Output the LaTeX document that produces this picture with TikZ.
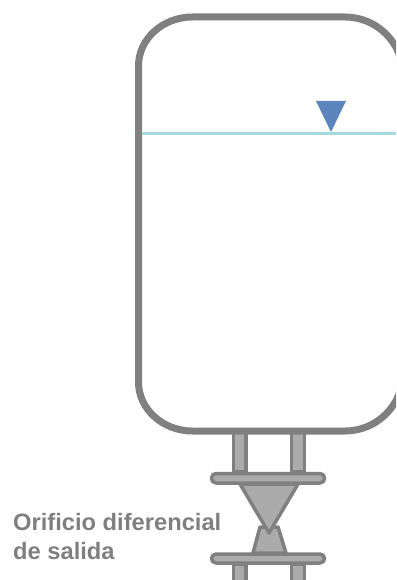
\documentclass[tikz,border=0pt]{standalone}
\usepackage{fontspec}
\setmainfont{Liberation Sans}
\definecolor{wall}{HTML}{808080}
\definecolor{metal}{HTML}{ABABAB}
\definecolor{water}{HTML}{A6D9DF}
\definecolor{marker}{HTML}{5C85BD}
\definecolor{label}{HTML}{7F7F7F}
\tikzset{
  tank/.style={draw=wall,line width=7pt,line join=round},
  part/.style={draw=wall,fill=metal,line width=3.5pt,line join=round},
  caption/.style={font=\bfseries\fontsize{23.7}{29}\selectfont,text=label,align=left,inner sep=0pt,anchor=base west}
}
\begin{document}
\begin{tikzpicture}[x=1pt,y=-1pt]
\useasboundingbox (0,0) rectangle (396,580);
\clip (0,0) rectangle (396,580);
% pipes
\draw[part] (233.5,431) rectangle (246,472);
\draw[part] (291.5,431) rectangle (304.5,472);
\draw[part] (233.5,564) rectangle (246,584);
\draw[part] (291.5,564) rectangle (304.5,584);
% tank
\draw[tank] (138.5,66) arc[start angle=180,end angle=270,x radius=54,y radius=49] -- (345,17) arc[start angle=270,end angle=360,radius=58] -- (403,373) arc[start angle=0,end angle=90,radius=58] -- (192.5,431) arc[start angle=90,end angle=180,x radius=54,y radius=49] -- cycle;
% level
\draw[water,line width=3.5pt] (142,133.5) -- (396,133.5);
\fill[marker] (316,101) -- (346,101) -- (331,132) -- cycle;
% orifice
\draw[part] (260,527) -- (278,527) -- (286,553) -- (253,553) -- cycle;
\draw[part] (240,484) -- (298,484) -- (269,533) -- cycle;
% flanges
\draw[part,rounded corners=4.5pt] (211.5,473.5) rectangle (324.5,483);
\draw[part,rounded corners=4.5pt] (211.5,554) rectangle (324.5,563);
\node[caption] (cap) at (13,530) {Orificio diferencial};
\node[caption] (cap2) at (13,559) {de salida};
\end{tikzpicture}
\end{document}
